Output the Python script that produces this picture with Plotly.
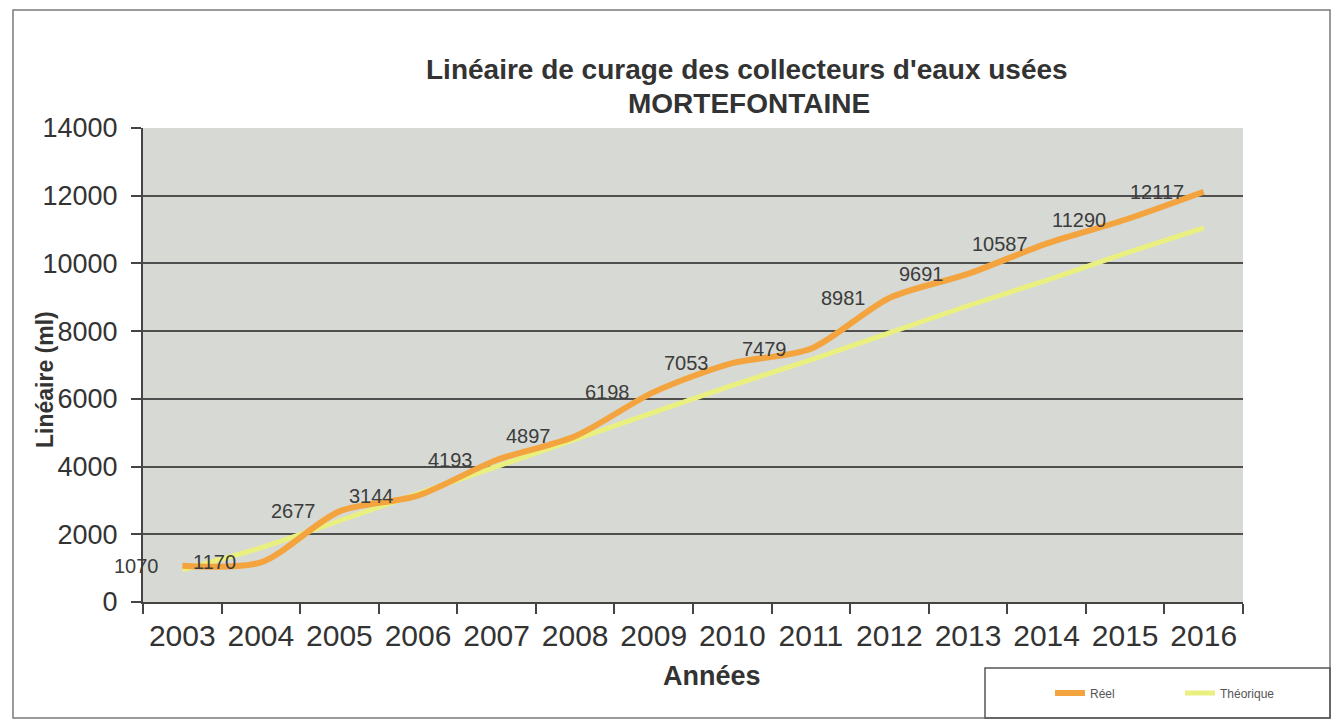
import plotly.graph_objects as go

years = ["2003", "2004", "2005", "2006", "2007", "2008", "2009",
         "2010", "2011", "2012", "2013", "2014", "2015", "2016"]
reel = [1070, 1170, 2677, 3144, 4193, 4897, 6198, 7053, 7479, 8981, 9691, 10587, 11290, 12117]
theorique = [950, 1600, 2400, 3200, 4000, 4800, 5600, 6400, 7150, 7950, 8750, 9500, 10300, 11050]
y_ticks = [0, 2000, 4000, 6000, 8000, 10000, 12000, 14000]
y_tick_text = ["0", "2000", "4000", "6000", "8000", "10000", "12000", "14000"]

OFF = 8  # default page body margin
W, H = 1342 - OFF, 726 - OFF
L, T = 143 - OFF, 128 - OFF
pw, ph = 1100, 474
R, B = W - L - pw, H - T - ph

def px(p):
    return (p - OFF - L) / pw

def py(q):
    return (T + ph - (q - OFF)) / ph

FONT = "Liberation Sans, Arial"

fig = go.Figure()
fig.add_trace(go.Scatter(
    x=years, y=theorique, name="Théorique", mode="lines",
    line=dict(color="#eaf080", width=5, shape="spline", smoothing=0.6),
))
fig.add_trace(go.Scatter(
    x=years, y=reel, name="Réel", mode="lines",
    line=dict(color="#f4a43e", width=6, shape="spline", smoothing=0.8),
))

annotations = []
for i, v in enumerate(reel):
    annotations.append(dict(
        x=i - 0.5, y=v, xref="x", yref="y", text=str(v), showarrow=False,
        xanchor="center", yanchor="middle", xshift=-7,
        font=dict(family=FONT, size=20, color="#3c3c3c"),
    ))
annotations.append(dict(
    x=px(45), y=py(380), xref="paper", yref="paper", text="<b>Linéaire (ml)</b>",
    textangle=-90, showarrow=False, xanchor="center", yanchor="middle",
    font=dict(family=FONT, size=23, color="#333333"),
))
annotations.append(dict(
    x=px(747), y=py(70), xref="paper", yref="paper",
    text="<b>Linéaire de curage des collecteurs d'eaux usées</b>",
    showarrow=False, xanchor="center", yanchor="middle",
    font=dict(family=FONT, size=28, color="#333333"),
))
annotations.append(dict(
    x=px(749), y=py(104), xref="paper", yref="paper",
    text="<b>MORTEFONTAINE</b>",
    showarrow=False, xanchor="center", yanchor="middle",
    font=dict(family=FONT, size=28, color="#333333"),
))
annotations.append(dict(
    x=px(712), y=py(676), xref="paper", yref="paper",
    text="<b>Années</b>",
    showarrow=False, xanchor="center", yanchor="middle",
    font=dict(family=FONT, size=27, color="#333333"),
))

shapes = [
    dict(type="rect", xref="paper", yref="paper", x0=px(13), x1=px(1330), y0=py(718), y1=py(10),
         line=dict(color="#7a7a7a", width=1.5), layer="below"),
    dict(type="rect", xref="paper", yref="paper", x0=px(985), x1=px(1330), y0=py(718), y1=py(668),
         line=dict(color="#555555", width=1.5)),
]

fig.update_layout(
    width=W, height=H,
    margin=dict(l=L, r=R, t=T, b=B),
    paper_bgcolor="white", plot_bgcolor="#d6d9d4",
    xaxis=dict(
        type="category", categoryorder="array", categoryarray=years,
        tickson="boundaries", ticks="outside", ticklen=10, tickwidth=2, tickcolor="#444444",
        showline=True, linecolor="#444444", linewidth=2, showgrid=False,
        tickfont=dict(family=FONT, size=30, color="#333333"),
        ticklabelstandoff=6,
        range=[-0.5, 13.5],
    ),
    yaxis=dict(
        range=[0, 14000], tickvals=y_ticks, ticktext=y_tick_text,
        ticks="outside", ticklen=10, tickwidth=2,
        tickcolor="#444444", showline=True, linecolor="#444444", linewidth=2,
        showgrid=True, gridcolor="#4f4f4f", gridwidth=2, zeroline=False,
        tickfont=dict(family=FONT, size=27, color="#333333"),
        ticklabelstandoff=8,
    ),
    legend=dict(
        orientation="h", x=px(1050), y=py(693), xanchor="left", yanchor="middle",
        traceorder="reversed", bgcolor="rgba(0,0,0,0)",
        font=dict(family=FONT, size=12, color="#555555"),
        entrywidth=85,
    ),
    annotations=annotations, shapes=shapes,
)

fig.write_html("out.html")
